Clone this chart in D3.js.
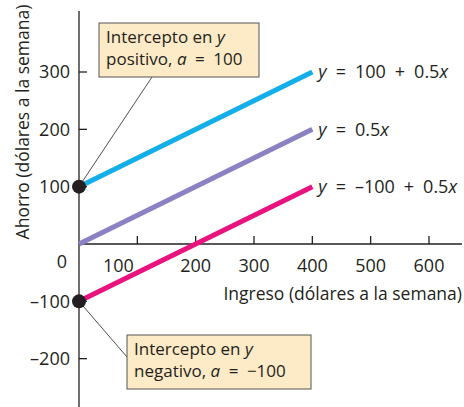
<!DOCTYPE html>
<html><head><meta charset="utf-8">
<script src="https://cdn.jsdelivr.net/npm/d3@7"></script>
<style>
html,body{margin:0;padding:0;background:#fff;}
svg{display:block;font-family:"Open Sans",sans-serif;}
</style></head>
<body><svg id="c" width="464" height="407"></svg>
<script>
// Data
const xValues = [0, 400];
const savingsPositive = [100, 300];   // y = 100 + 0.5x
const savingsZero = [0, 200];         // y = 0.5x
const savingsNegative = [-100, 100];  // y = -100 + 0.5x
const seriesColors = ["#14aee8", "#8a82c2", "#e8137f"];
const xTicks = [100, 200, 300, 400, 500, 600];
const yTicks = [-200, -100, 100, 200, 300];
const intercepts = [100, -100];

const svg = d3.select("#c");
const x = d3.scaleLinear().domain([0, 600]).range([79, 429]);
const y = d3.scaleLinear().domain([0, 300]).range([244, 72]);
const ink = "#231f20";
const fs = 17.5, tfs = 18, afs = 17;
const sp = "\u2002";

// axes
svg.append("line").attr("x1", x(0)).attr("x2", 462).attr("y1", y(0)).attr("y2", y(0))
  .attr("stroke", ink).attr("stroke-width", 1.3);
svg.append("line").attr("x1", x(0)).attr("x2", x(0)).attr("y1", 11).attr("y2", 407)
  .attr("stroke", ink).attr("stroke-width", 1.3);

// x ticks
const xg = svg.append("g");
xTicks.forEach((t, i) => {
  xg.append("line").attr("x1", x(t)).attr("x2", x(t)).attr("y1", y(0)).attr("y2", y(0) - 8)
    .attr("stroke", ink).attr("stroke-width", 1.3);
  xg.append("text").attr("x", x(t)).attr("dx", i === 0 ? -19 : 0).attr("y", y(0) + 28)
    .attr("text-anchor", "middle").attr("font-size", tfs).attr("fill", ink).text(t);
});
// y ticks
const yg = svg.append("g");
yTicks.forEach(t => {
  yg.append("line").attr("x1", x(0)).attr("x2", x(0) + 8).attr("y1", y(t)).attr("y2", y(t))
    .attr("stroke", ink).attr("stroke-width", 1.3);
  yg.append("text").attr("x", 70).attr("y", y(t)).attr("dy", "0.35em")
    .attr("text-anchor", "end").attr("font-size", tfs).attr("fill", ink)
    .text(t < 0 ? "\u2013" + Math.abs(t) : t);
});
svg.append("text").attr("x", 62).attr("y", y(0) + 18).attr("dy", "0.35em")
  .attr("text-anchor", "middle").attr("font-size", tfs).attr("fill", ink).text("0");

// axis titles
svg.append("text").attr("x", 462).attr("y", 300).attr("text-anchor", "end")
  .attr("font-size", fs).attr("fill", ink).text("Ingreso (dólares a la semana)");
svg.append("text").attr("transform", "translate(29,122) rotate(-90)").attr("text-anchor", "middle")
  .attr("font-size", fs).attr("fill", ink).text("Ahorro (dólares a la semana)");

// lines
const series = [savingsPositive, savingsZero, savingsNegative];
const line = d3.line().x(d => x(d[0])).y(d => y(d[1]));
series.forEach((s, i) => {
  svg.append("path").datum(xValues.map((xv, j) => [xv, s[j]]))
    .attr("d", line).attr("fill", "none").attr("stroke", seriesColors[i]).attr("stroke-width", 5);
});

// equation labels
const eqParts = [
  [["y", true], [sp + "=" + sp + "100" + sp + "+" + sp + "0.5", false], ["x", true]],
  [["y", true], [sp + "=" + sp + "0.5", false], ["x", true]],
  [["y", true], [sp + "=" + sp + "\u2013100" + sp + "+" + sp + "0.5", false], ["x", true]]
];
series.forEach((s, i) => {
  const t = svg.append("text").attr("x", x(xValues[1]) + 6).attr("y", y(s[1])).attr("dy", "0.35em")
    .attr("font-size", tfs).attr("fill", ink);
  eqParts[i].forEach(p => t.append("tspan").attr("font-style", p[1] ? "italic" : "normal").text(p[0]));
});

// annotations
function annot(val, bx, by, bw, bh, lx, ly, lines) {
  svg.append("line").attr("x1", x(0)).attr("y1", y(val)).attr("x2", lx).attr("y2", ly)
    .attr("stroke", ink).attr("stroke-width", 0.8);
  svg.append("rect").attr("x", bx).attr("y", by).attr("width", bw).attr("height", bh)
    .attr("fill", "#fdeac6").attr("stroke", "#555").attr("stroke-width", 1);
  lines.forEach((ln, k) => {
    const t = svg.append("text").attr("x", bx + 7).attr("y", by + 20 + k * 22)
      .attr("font-size", afs).attr("fill", ink);
    ln.forEach(p => t.append("tspan").attr("font-style", p[1] ? "italic" : "normal").text(p[0]));
  });
}
annot(intercepts[0], 99, 23, 160, 54, 152, 77,
  [[["Intercepto en ", false], ["y", true]], [["positivo, ", false], ["a", true], [sp + "=" + sp + "100", false]]]);
annot(intercepts[1], 127, 335, 184, 54, 127, 357,
  [[["Intercepto en ", false], ["y", true]], [["negativo, ", false], ["a", true], [sp + "=" + sp + "\u2212100", false]]]);

// intercept dots
intercepts.forEach(v => {
  svg.append("circle").attr("cx", x(0)).attr("cy", y(v)).attr("r", 7).attr("fill", ink);
});
</script></body></html>
